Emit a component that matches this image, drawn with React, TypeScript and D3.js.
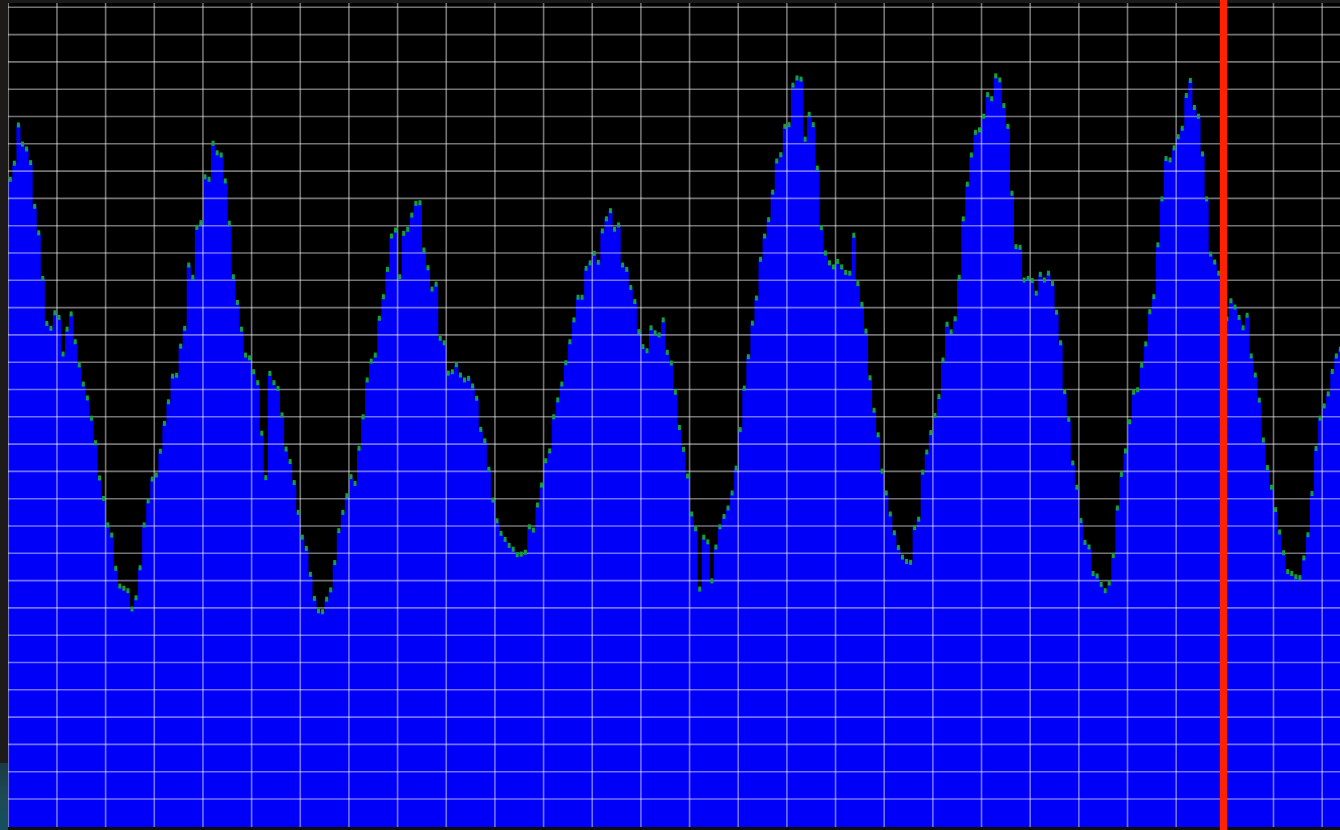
import React from "react";
import * as d3 from "d3";

// Sample levels (grid units x10: one horizontal grid line = 10)
const levels: number[] = [
  237.0, 242.9, 256.9, 249.9, 248.1, 243.1, 227.1, 217.4, 200.7, 184.2,
  182.4, 188.1, 186.4, 173.0, 182.1, 187.7, 177.5, 169.0, 162.0, 156.9,
  149.5, 140.5, 127.6, 120.1, 110.4, 106.7, 94.5, 88.0, 87.2, 86.3,
  79.6, 83.7, 94.7, 110.4, 119.2, 127.2, 128.7, 137.4, 147.6, 155.5,
  164.9, 165.2, 175.9, 182.4, 205.6, 201.1, 219.4, 221.1, 237.9, 237.0,
  250.2, 246.7, 245.9, 236.4, 220.9, 201.3, 191.9, 182.1, 172.6, 171.6,
  166.5, 162.5, 144.0, 127.7, 165.9, 162.5, 160.4, 150.7, 138.2, 133.6,
  125.9, 115.0, 105.9, 101.8, 92.3, 83.5, 78.9, 78.6, 83.2, 86.6,
  96.6, 108.3, 115.0, 121.1, 128.1, 125.6, 138.5, 150.0, 163.5, 170.4,
  172.6, 186.1, 194.0, 204.0, 216.2, 218.4, 201.3, 217.2, 218.7, 223.9,
  228.2, 228.4, 211.1, 204.6, 196.8, 198.6, 178.8, 177.1, 166.0, 166.5,
  169.1, 165.3, 163.5, 164.1, 161.3, 156.8, 145.4, 141.2, 130.8, 119.5,
  111.9, 107.3, 105.1, 102.9, 101.5, 99.5, 99.7, 100.4, 109.7, 108.5,
  117.7, 125.0, 133.9, 137.5, 150.0, 156.2, 162.0, 169.8, 177.5, 185.5,
  193.8, 193.8, 204.4, 206.4, 209.9, 206.6, 218.1, 222.5, 225.5, 218.7,
  220.3, 205.6, 204.0, 197.4, 192.2, 181.2, 175.7, 174.2, 182.6, 180.8,
  180.0, 185.5, 173.6, 169.7, 159.0, 146.1, 138.1, 128.3, 114.4, 109.0,
  86.9, 105.9, 104.2, 89.9, 102.3, 109.7, 113.5, 116.6, 122.1, 131.2,
  145.3, 160.5, 172.0, 184.3, 193.5, 207.7, 216.2, 222.2, 232.3, 243.7,
  246.0, 256.4, 257.0, 271.5, 274.1, 273.7, 251.7, 260.8, 257.0, 241.1,
  219.3, 210.0, 206.4, 204.9, 206.9, 204.9, 202.9, 202.6, 216.5, 198.8,
  191.2, 181.4, 164.3, 152.4, 143.4, 130.1, 122.1, 114.4, 107.5, 102.1,
  98.6, 97.0, 96.7, 109.4, 112.5, 129.7, 137.1, 144.2, 150.5, 157.4,
  170.8, 183.9, 181.1, 185.9, 201.1, 222.5, 235.2, 245.9, 254.2, 255.1,
  260.1, 268.0, 266.5, 274.9, 273.4, 264.0, 256.4, 231.9, 212.3, 212.1,
  200.1, 200.7, 199.9, 195.3, 202.2, 200.1, 202.6, 198.8, 188.3, 177.1,
  159.2, 149.1, 133.1, 124.2, 112.0, 104.0, 102.3, 92.6, 91.7, 88.6,
  86.3, 89.1, 99.2, 116.6, 128.9, 137.5, 148.2, 159.0, 159.9, 168.9,
  176.7, 188.5, 194.0, 213.0, 229.8, 244.6, 244.1, 248.5, 252.6, 255.7,
  267.7, 273.2, 263.3, 260.1, 246.3, 229.8, 209.6, 206.7, 202.6, 196.4,
  185.9, 192.5, 190.2, 186.4, 182.6, 187.2, 172.3, 165.3, 156.1, 141.5,
  131.4, 124.2, 116.0, 107.8, 100.2, 93.3, 92.6, 91.4, 91.1, 98.3,
  106.8, 121.9, 138.4, 149.5, 154.0, 158.4, 166.6, 172.3, 174.8,
];

// Grid: vertical line every 12 samples, horizontal every 10 level units
const verticalGridEvery = 12;
const horizontalGridLevels: number[] = d3.range(10, 301, 10);
const cursorSample = 299.67;

const W = 1340;
const H = 830;
const plot = { left: 8, top: 3, right: 1340, bottom: 827 };

export default function App() {
  const n = levels.length;
  const x = d3.scaleLinear().domain([0, 328.4]).range([8.3, 1340]);
  const y = d3.scaleLinear().domain([0, 300]).range([826.3, 7.3]);

  const pts: [number, number][] = d3
    .range(n + 1)
    .map((i) => [i, levels[Math.min(i, n - 1)]]);
  const area = d3
    .area<[number, number]>()
    .x((d) => x(d[0]))
    .y0(plot.bottom)
    .y1((d) => y(d[1]))
    .curve(d3.curveStepAfter);

  const vTicks = d3.range(0, 329, verticalGridEvery);

  return (
    <div style={{ position: "fixed", left: 0, top: 0, width: W, height: H }}>
      <svg width={W} height={H} style={{ display: "block" }}>
        <defs>
          <clipPath id="plotClip">
            <rect
              x={plot.left}
              y={plot.top}
              width={plot.right - plot.left}
              height={plot.bottom - plot.top}
            />
          </clipPath>
          <linearGradient id="teal" x1="0" y1="0" x2="0" y2="1">
            <stop offset="0" stopColor="#1b3a44" />
            <stop offset="0.5" stopColor="#1d4a55" />
            <stop offset="1" stopColor="#15505e" />
          </linearGradient>
        </defs>
        <rect x={0} y={0} width={W} height={H} fill="#1c1b1a" />
        <rect x={0} y={763} width={8} height={67} fill="url(#teal)" />
        <rect x={plot.left} y={plot.bottom} width={W - plot.left} height={H - plot.bottom} fill="#0e0e0e" />
        <g clipPath="url(#plotClip)">
          <rect
            x={plot.left}
            y={plot.top}
            width={plot.right - plot.left}
            height={plot.bottom - plot.top}
            fill="#000000"
          />
          <path d={area(pts) || ""} fill="#0000fa" />
          {horizontalGridLevels.map((v) => (
            <line
              key={"h" + v}
              x1={plot.left}
              x2={plot.right}
              y1={y(v)}
              y2={y(v)}
              stroke="#ffffff"
              strokeOpacity={0.45}
              strokeWidth={1.6}
            />
          ))}
          {vTicks.map((t) => (
            <line
              key={"v" + t}
              x1={x(t)}
              x2={x(t)}
              y1={plot.top}
              y2={plot.bottom}
              stroke="#ffffff"
              strokeOpacity={0.45}
              strokeWidth={1.6}
            />
          ))}
          {levels.map((v, i) => (
            <rect
              key={"m" + i}
              x={x(i + 0.5) - 1.5}
              y={y(v) - 2.5}
              width={3}
              height={5}
              fill="#13a040"
            />
          ))}
        </g>
        <rect
          x={x(cursorSample) - 3.65}
          y={0}
          width={7.3}
          height={H}
          fill="#ff2200"
        />
      </svg>
    </div>
  );
}
